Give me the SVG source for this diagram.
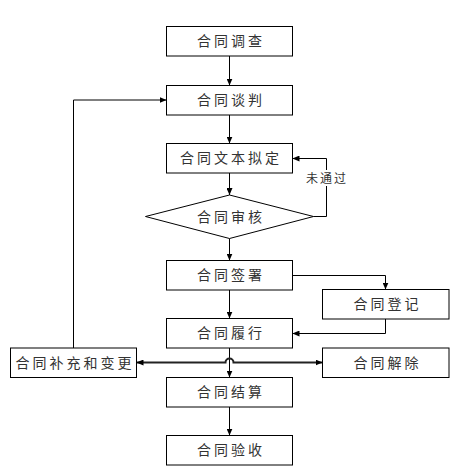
<svg xmlns="http://www.w3.org/2000/svg" width="464" height="476" viewBox="0 0 464 476">
<style>
.box{fill:#fff;stroke:#000;stroke-width:1}
.t{font-family:"Noto Sans CJK SC","Noto Sans",sans-serif;font-size:14px;letter-spacing:3px;fill:#333}
.lbl{font-family:"Noto Sans CJK SC","Noto Sans",sans-serif;font-size:12px;letter-spacing:2px;fill:#333}
.c{fill:none;stroke:#000;stroke-width:1}
.thick{fill:none;stroke:#222;stroke-width:2}
</style>
<defs>
<marker id="ah" markerUnits="userSpaceOnUse" markerWidth="7" markerHeight="6" refX="7" refY="3" orient="auto">
<path d="M0,0 L7,3 L0,6 z" fill="#000"/>
</marker>
<marker id="ahs" markerUnits="userSpaceOnUse" markerWidth="7" markerHeight="6" refX="7" refY="3" orient="auto-start-reverse">
<path d="M0,0 L7,3 L0,6 z" fill="#000"/>
</marker>
</defs>
<rect width="464" height="476" fill="#fff"/>
<g id="connectors">
<path class="c" d="M229.5,56 V85.5" marker-end="url(#ah)"/>
<path class="c" d="M73.5,348 V100 H166.5" marker-end="url(#ah)"/>
<path class="c" d="M229.5,115 V143.5" marker-end="url(#ah)"/>
<path class="c" d="M229.5,173 V195" marker-end="url(#ah)"/>
<path class="c" d="M313.5,216.5 H326.5 V158.5 H292.5" marker-end="url(#ah)"/>
<path class="c" d="M229.5,238.5 V260.5" marker-end="url(#ah)"/>
<path class="c" d="M292.5,275.5 H385.5 V289.5" marker-end="url(#ah)"/>
<path class="c" d="M385.5,319 V333.5 H292.5" marker-end="url(#ah)"/>
<path class="c" d="M229.5,290 V318.5" marker-end="url(#ah)"/>
<path class="c" d="M229.5,348 V377.5" marker-end="url(#ah)"/>
<path class="thick" d="M136.5,362.5 H225.5 A4,4 0 0 1 233.5,362.5 H322.5" marker-start="url(#ahs)" marker-end="url(#ahs)"/>
<path class="c" d="M229.5,407 V435.5" marker-end="url(#ah)"/>
<g id="label-fail">
<rect x="305" y="170" width="43" height="16" fill="#fff"/>
<text class="lbl" x="306" y="182.5">未通过</text>
</g>
</g>
<g id="n1"><rect class="box" x="166.5" y="26.5" width="126" height="29.5"/><text class="t" x="197" y="46">合同调查</text></g>
<g id="n2"><rect class="box" x="166.5" y="85.5" width="126" height="29.5"/><text class="t" x="197" y="105">合同谈判</text></g>
<g id="n3"><rect class="box" x="166.5" y="143.5" width="126" height="29.5"/><text class="t" x="180" y="163">合同文本拟定</text></g>
<g id="n4"><polygon class="box" points="145.5,216.5 229.5,195 313.5,216.5 229.5,238.5"/><text class="t" x="197" y="222">合同审核</text></g>
<g id="n5"><rect class="box" x="166.5" y="260.5" width="126" height="29.5"/><text class="t" x="197" y="280">合同签署</text></g>
<g id="n6"><rect class="box" x="322.5" y="289.5" width="126.5" height="29.5"/><text class="t" x="353.5" y="309">合同登记</text></g>
<g id="n7"><rect class="box" x="166.5" y="318.5" width="126" height="29.5"/><text class="t" x="197" y="338">合同履行</text></g>
<g id="n8"><rect class="box" x="10.5" y="348" width="126" height="29.5"/><text class="t" x="15.5" y="367.5">合同补充和变更</text></g>
<g id="n9"><rect class="box" x="322.5" y="348" width="126.5" height="29.5"/><text class="t" x="353.5" y="367.5">合同解除</text></g>
<g id="n10"><rect class="box" x="166.5" y="377.5" width="126" height="29.5"/><text class="t" x="197" y="397">合同结算</text></g>
<g id="n11"><rect class="box" x="166.5" y="435.5" width="126" height="29.5"/><text class="t" x="197" y="455">合同验收</text></g>
</svg>
